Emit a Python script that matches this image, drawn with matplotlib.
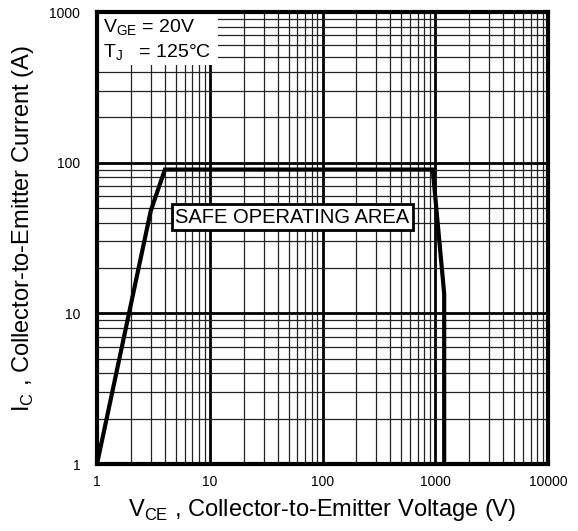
import matplotlib.pyplot as plt
from matplotlib.patches import Rectangle
from matplotlib.ticker import LogLocator, NullFormatter, FixedLocator

plt.rcParams['font.family'] = ['Liberation Sans', 'DejaVu Sans']

# safe operating area boundary
vce = [1, 3, 4, 950, 1200, 1200]
ic = [1, 48, 90, 90, 13.5, 1]

xticks = [1, 10, 100, 1000, 10000]
xticklabels = ["1", "10", "100", "1000", "10000"]
yticks = [1, 10, 100, 1000]
yticklabels = ["1", "10", "100", "1000"]

fig = plt.figure(figsize=(5.78, 5.31), dpi=100)
ax = fig.add_axes([97 / 578, 1 - 464 / 531, 451 / 578, 452 / 531])

ax.set_xscale('log')
ax.set_yscale('log')
ax.set_xlim(1, 10000)
ax.set_ylim(1, 1000)

ax.xaxis.set_major_locator(FixedLocator(xticks))
ax.yaxis.set_major_locator(FixedLocator(yticks))
ax.set_xticklabels(xticklabels)
ax.set_yticklabels(yticklabels)
ax.xaxis.set_minor_locator(LogLocator(base=10, subs=range(2, 10)))
ax.yaxis.set_minor_locator(LogLocator(base=10, subs=range(2, 10)))
ax.xaxis.set_minor_formatter(NullFormatter())
ax.yaxis.set_minor_formatter(NullFormatter())
ax.tick_params(which='both', length=0, labelsize=10)
ax.tick_params(axis='y', pad=12)
ax.tick_params(axis='x', pad=8)

ax.grid(which='major', color='black', lw=2)
ax.grid(which='minor', color='#222222', lw=0.9)
for s in ax.spines.values():
    s.set_linewidth(3)
    s.set_zorder(8)

ax.plot(vce, ic, color='black', lw=3, solid_joinstyle='miter', zorder=5)

# white patch behind the conditions text
ax.add_patch(Rectangle((0, 0.883), 0.268, 0.117, transform=ax.transAxes,
                       facecolor='white', edgecolor='none', zorder=6))
ax.text(0.013, 0.987, "V$_{\\mathregular{GE}}$ = 20V",
        transform=ax.transAxes, ha='left', va='top', fontsize=14, zorder=7)
ax.text(0.013, 0.932, "T$_{\\mathregular{J}}$   = 125°C",
        transform=ax.transAxes, ha='left', va='top', fontsize=14, zorder=7)

ax.text(54, 43.5, "SAFE OPERATING AREA", ha='center', va='center', fontsize=14.5,
        bbox=dict(facecolor='white', edgecolor='black', lw=2, pad=2.5), zorder=6)

ax.set_xlabel("V$_{\\mathregular{CE}}$ , Collector-to-Emitter Voltage (V)", fontsize=17, labelpad=6)
ax.set_ylabel("I$_{\\mathregular{C}}$ , Collector-to-Emitter Current (A)", fontsize=17)
ax.yaxis.set_label_coords(-0.135, 0.52)

fig.savefig("out.png", dpi=100)
